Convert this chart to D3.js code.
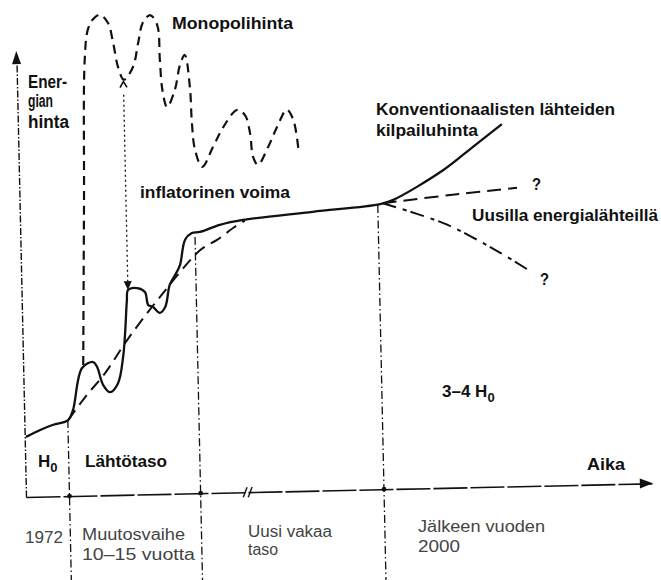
<!DOCTYPE html>
<html><head><meta charset="utf-8">
<script src="https://cdn.jsdelivr.net/npm/d3@7"></script>
<style>body{margin:0;background:#fff}svg{display:block}</style>
</head><body>
<script>
// ---- data (time units 0-100, price units 0-100) ----
const phaseTicks = [6.95, 27.9, 57.2];          // 1972, end of transition, year 2000
const axisBreak = 35.5;
const inflationArrow = [17.0, 93.5, 46.3];     // t, from price, to price
const mainPrice = [
  [0.2,13.6],[2.5,15.1],[4.6,16.2],[7.0,17.2],[7.8,19.4],[9.4,28.9],[11.2,30.2],[11.8,29.1],
  [12.7,25.0],[13.8,23.3],[15.1,25.3],[16.0,31.2],[16.4,36.6],[16.8,44.1],[17.0,46.3],[18.5,46.7],
  [19.7,45.8],[20.2,42.8],[20.9,42.4],[22.0,41.0],[22.9,42.3],[23.7,47.3],[24.6,49.5],[25.4,51.7],
  [26.3,57.4],[27.4,58.9],[28.7,59.1],[31.9,60.6],[35.6,61.6],[46.8,63.1],[57.6,64.5],[59.7,65.4],
  [67.8,71.9],[72.6,77.0],[77.3,82.0]
];
const trendPrice = [
  [7.0,17.2],[9.8,22.3],[13.1,27.7],[16.7,35.0],[22.1,44.6],[28.7,55.0],[31.4,57.2],[34.3,60.1],[35.9,61.4]
];
const monopolyPrice = [
  [9.6,29.6],[10.3,66.9],[10.9,98.6],[11.5,105.4],[12.4,107.8],[13.5,108.7],[14.75,106.8],[15.5,102.3],
  [16.2,96.8],[17.1,93.9],[18.6,96.8],[19.5,102.2],[20.3,106.7],[21.5,108.4],[22.6,106.1],[22.9,98.2],
  [23.2,91.4],[23.9,87.5],[25.2,91.4],[26.1,97.0],[26.9,99.2],[27.6,91.9],[27.8,83.8],[28.2,77.7],
  [29.3,73.8],[31.1,78.3],[32.8,82.7],[35.05,86.5],[36.3,85.3],[37.05,81.2],[37.45,75.8],[38.2,74.0],
  [39.9,78.0],[41.4,82.5],[43.0,86.3],[44.0,84.0],[44.7,77.6]
];
const newSourcesHigh = [[58.0,64.7],[68.8,66.2],[79.5,67.5]];
const newSourcesLow  = [[58.0,64.7],[67.6,59.9],[72.0,56.7],[76.6,52.9],[81.0,48.9]];

// ---- drawing ----
const W = 661, H = 580;
const svg = d3.select("body").append("svg").attr("width", W).attr("height", H);
svg.append("rect").attr("width", W).attr("height", H).attr("fill", "#fff");
const g = svg.append("g").attr("transform", "translate(26,497) rotate(-1.25)");
const x = d3.scaleLinear().domain([0, 100]).range([0, 626]);
const y = d3.scaleLinear().domain([0, 100]).range([0, -442]);
const line = d3.line().x(d => x(d[0])).y(d => y(d[1])).curve(d3.curveCatmullRom.alpha(0.5));
const straight = d3.line().x(d => x(d[0])).y(d => y(d[1]));

// axes
const xAxis = g.append("g").call(d3.axisBottom(x).tickValues(phaseTicks).tickFormat("").tickSize(0).tickSizeOuter(0));
xAxis.select(".domain").attr("stroke", "#111").attr("stroke-width", 1.6).attr("stroke-dasharray", "34,3");
const yAxis = g.append("g").call(d3.axisLeft(y).tickValues([]).tickSizeOuter(0));
yAxis.select(".domain").attr("stroke", "#111").attr("stroke-width", 1.4).attr("stroke-dasharray", "7,2,1.5,2");
// arrowheads
g.append("path").attr("d", `M${x(0)},${y(100)-4} L${x(0)-4.5},${y(100)+9} L${x(0)+4.5},${y(100)+9}Z`).attr("fill", "#111");
g.append("path").attr("d", `M${x(100)+1},${y(0)} L${x(100)-12},${y(0)-5} L${x(100)-12},${y(0)+5}Z`).attr("fill", "#111");
// axis break
[-3, 2].forEach(o => {
  g.append("line").attr("x1", x(axisBreak)+o-2).attr("y1", 5).attr("x2", x(axisBreak)+o+2).attr("y2", -5)
    .attr("stroke", "#111").attr("stroke-width", 1.4);
});

// vertical phase lines
const vTop = [17.2, 58, 64.3];
phaseTicks.forEach((t, i) => {
  g.append("path").attr("d", straight([[t, vTop[i]], [t, -22]]))
    .attr("fill", "none").attr("stroke", "#111").attr("stroke-width", 1.3).attr("stroke-dasharray", "8,3,1.5,3");
  g.append("circle").attr("cx", x(t)).attr("cy", y(0)).attr("r", 2.4).attr("fill", "#111");
});

// monopoly price
g.append("path").attr("d", line(monopolyPrice)).attr("fill", "none").attr("stroke", "#111")
  .attr("stroke-width", 2.2).attr("stroke-dasharray", "9,6");
// trend
g.append("path").attr("d", line(trendPrice)).attr("fill", "none").attr("stroke", "#111")
  .attr("stroke-width", 2).attr("stroke-dasharray", "12,7");
// main price
g.append("path").attr("d", line(mainPrice)).attr("fill", "none").attr("stroke", "#111")
  .attr("stroke-width", 2.3).attr("stroke-linejoin", "round");
// new sources branches
g.append("path").attr("d", line(newSourcesHigh)).attr("fill", "none").attr("stroke", "#111")
  .attr("stroke-width", 2).attr("stroke-dasharray", "14,7");
g.append("path").attr("d", line(newSourcesLow)).attr("fill", "none").attr("stroke", "#111")
  .attr("stroke-width", 2).attr("stroke-dasharray", "14,7,4,4");

// inflation arrow
const [it, ip0, ip1] = inflationArrow;
g.append("path").attr("d", straight([[it, ip0 - 3], [it, ip1 + 2]])).attr("fill", "none")
  .attr("stroke", "#111").attr("stroke-width", 1.3).attr("stroke-dasharray", "2,3");
g.append("path").attr("d", `M${x(it)},${y(ip1)} L${x(it)-4},${y(ip1)-9} L${x(it)+4},${y(ip1)-9}Z`).attr("fill", "#111");
g.append("path").attr("d", `M${x(it)-3.5},${y(ip0)+6} L${x(it)},${y(ip0)} L${x(it)+3.5},${y(ip0)+6}`)
  .attr("fill", "none").attr("stroke", "#111").attr("stroke-width", 1.6);

// ---- texts ----
const bold = [
  ["Ener-", 28, 88, 39, 18], ["gian", 28, 107, 25, 18], ["hinta", 28, 128, 41, 18],
  ["Monopolihinta", 172, 29, 121, 17],
  ["inflatorinen voima", 140, 198, 150, 17],
  ["Konventionaalisten lähteiden", 376, 115, 239, 17],
  ["kilpailuhinta", 376, 136, 102, 17],
  ["?", 532, 190, 9, 17],
  ["Uusilla energialähteillä", 472, 221, 186, 17],
  ["?", 540, 285, 9, 17],
  ["Lähtötaso", 85, 467, 82, 17],
  ["Aika", 587, 470, 38, 17]
];
bold.forEach(([s, tx, ty, len, fs]) => {
  svg.append("text").attr("x", tx).attr("y", ty).attr("textLength", len).attr("lengthAdjust", "spacingAndGlyphs")
    .attr("font-family", "Liberation Sans, Arial, sans-serif").attr("font-weight", "bold").attr("font-size", fs)
    .attr("fill", "#111").text(s);
});
function hsub(pre, tx, ty) {
  const t = svg.append("text").attr("x", tx).attr("y", ty)
    .attr("font-family", "Liberation Sans, Arial, sans-serif").attr("font-weight", "bold").attr("font-size", 17).attr("fill", "#111");
  t.append("tspan").text(pre + "H");
  t.append("tspan").attr("dy", 5).attr("font-size", 13).text("0");
}
hsub("", 38, 467);
hsub("3–4 ", 442, 397);

const light = [
  ["1972", 25, 543, 38], ["Muutosvaihe", 82, 540, 103], ["10–15 vuotta", 82, 560, 113],
  ["Uusi vakaa", 248, 537, 84], ["taso", 248, 555, 30],
  ["Jälkeen vuoden", 418, 532, 127], ["2000", 418, 552, 42]
];
light.forEach(([s, tx, ty, len]) => {
  svg.append("text").attr("x", tx).attr("y", ty).attr("textLength", len).attr("lengthAdjust", "spacingAndGlyphs")
    .attr("font-family", "Liberation Sans, Arial, sans-serif").attr("font-size", 16)
    .attr("fill", "#444").text(s);
});
</script>
</body></html>
